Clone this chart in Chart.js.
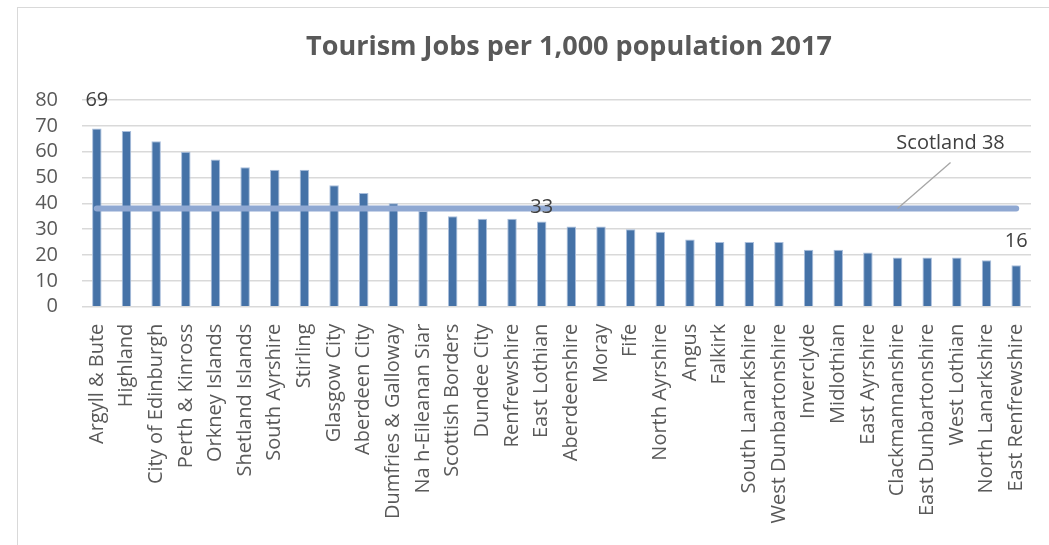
<!DOCTYPE html>
<html>
<head>
<meta charset="utf-8">
<script src="https://cdn.jsdelivr.net/npm/chart.js@4/dist/chart.umd.min.js"></script>
<style>
  html, body { margin: 0; padding: 0; background: #ffffff; overflow: hidden; }
  #frame {
    position: absolute; left: 17px; top: 7px; width: 1100px; height: 600px;
    border: 1.5px solid #d9d9d9; box-sizing: border-box;
  }
  #wrap { position: absolute; left: 0; top: 0; width: 1049px; height: 545px; }
</style>
</head>
<body>
<div id="frame"></div>
<div id="wrap"><canvas id="c" width="1049" height="545"></canvas></div>
<script>
// Council areas, ordered by tourism jobs per 1,000 population
const areas = [
  "Argyll & Bute", "Highland", "City of Edinburgh", "Perth & Kinross", "Orkney Islands",
  "Shetland Islands", "South Ayrshire", "Stirling", "Glasgow City", "Aberdeen City",
  "Dumfries & Galloway", "Na h-Eileanan Siar", "Scottish Borders", "Dundee City",
  "Renfrewshire", "East Lothian", "Aberdeenshire", "Moray", "Fife", "North Ayrshire",
  "Angus", "Falkirk", "South Lanarkshire", "West Dunbartonshire", "Inverclyde",
  "Midlothian", "East Ayrshire", "Clackmannanshire", "East Dunbartonshire",
  "West Lothian", "North Lanarkshire", "East Renfrewshire"
];
const jobsPer1000 = [
  69, 68, 64, 60, 57, 54, 53, 53, 47, 44, 40, 37, 35, 34, 34, 33,
  31, 31, 30, 29, 26, 25, 25, 25, 22, 22, 21, 19, 19, 19, 18, 16
];
const scotlandAverage = 38;
const scotlandLine = areas.map(() => scotlandAverage);
const yTicks = [0, 10, 20, 30, 40, 50, 60, 70, 80];
const chartTitle = "Tourism Jobs per 1,000 population 2017";

// Bars whose values are printed above them, with a lift in px
const labelledBars = [0, 15, 31];
const labelLift = [28, 14, 24];
// Category where the "Scotland" callout leader touches the average line
const calloutIndex = 27;

const TEXT = "#595959";
const FONT = "'Open Sans', 'DejaVu Sans', sans-serif";

const annotations = {
  id: "annotations",
  beforeDraw(chart) {
    const ctx = chart.ctx;
    ctx.save();
    ctx.font = "bold 27px " + FONT;
    ctx.fillStyle = TEXT;
    ctx.textAlign = "center";
    ctx.textBaseline = "middle";
    ctx.fillText(chartTitle, 569, 47);
    ctx.restore();
  },
  afterDatasetsDraw(chart) {
    const ctx = chart.ctx;
    const xs = chart.scales.x, ys = chart.scales.y;
    ctx.save();
    ctx.font = "20px " + FONT;
    ctx.fillStyle = "#404040";
    ctx.textAlign = "center";
    ctx.textBaseline = "middle";
    labelledBars.forEach((i, k) => {
      const x = xs.getPixelForValue(i);
      const y = ys.getPixelForValue(jobsPer1000[i]) - labelLift[k];
      ctx.fillText(String(jobsPer1000[i]), x, y);
    });
    // callout for the Scotland average
    const ax = xs.getPixelForValue(calloutIndex);
    const ay = ys.getPixelForValue(scotlandAverage);
    ctx.strokeStyle = "#a6a6a6";
    ctx.lineWidth = 1.3;
    ctx.beginPath();
    ctx.moveTo(ax, ay);
    ctx.lineTo(ax + 53, ay - 46);
    ctx.stroke();
    ctx.fillText("Scotland " + scotlandAverage, ax + 53, ay - 65);
    ctx.restore();
  }
};

new Chart(document.getElementById("c"), {
  data: {
    labels: areas,
    datasets: [
      {
        type: "line",
        label: "Scotland",
        data: scotlandLine,
        borderColor: "#8fa8d2",
        borderWidth: 6,
        borderCapStyle: "round",
        pointRadius: 0,
        tension: 0,
        order: 0
      },
      {
        type: "bar",
        label: "Tourism jobs per 1,000",
        data: jobsPer1000,
        backgroundColor: "#4572a7",
        borderColor: "#a9bedc",
        borderWidth: { top: 1, left: 1, right: 1, bottom: 0 },
        categoryPercentage: 1,
        barPercentage: 0.32,
        order: 1
      }
    ]
  },
  options: {
    responsive: false,
    animation: false,
    devicePixelRatio: 1,
    layout: { padding: { left: 18, right: 18, top: 100, bottom: 0 } },
    plugins: {
      legend: { display: false },
      tooltip: { enabled: false },
      title: { display: false }
    },
    scales: {
      x: {
        offset: true,
        grid: { display: false, drawTicks: false },
        border: { display: false },
        ticks: {
          autoSkip: false,
          minRotation: 90,
          maxRotation: 90,
          padding: 17,
          color: TEXT,
          font: { family: FONT, size: 20 }
        },
        afterFit(scale) {
          scale.height = 545 - 306.7;
          scale.paddingLeft = 0;
          scale.paddingRight = 0;
        }
      },
      y: {
        min: 0,
        max: 80,
        afterBuildTicks(scale) { scale.ticks = yTicks.map(v => ({ value: v })); },
        grid: { color: "#d9d9d9", lineWidth: 1.5, drawTicks: false },
        border: { display: false },
        ticks: {
          autoSkip: false,
          padding: 24,
          color: TEXT,
          font: { family: FONT, size: 20 }
        },
        afterFit(scale) { scale.width = 64; }
      }
    }
  },
  plugins: [annotations]
});
</script>
</body>
</html>
